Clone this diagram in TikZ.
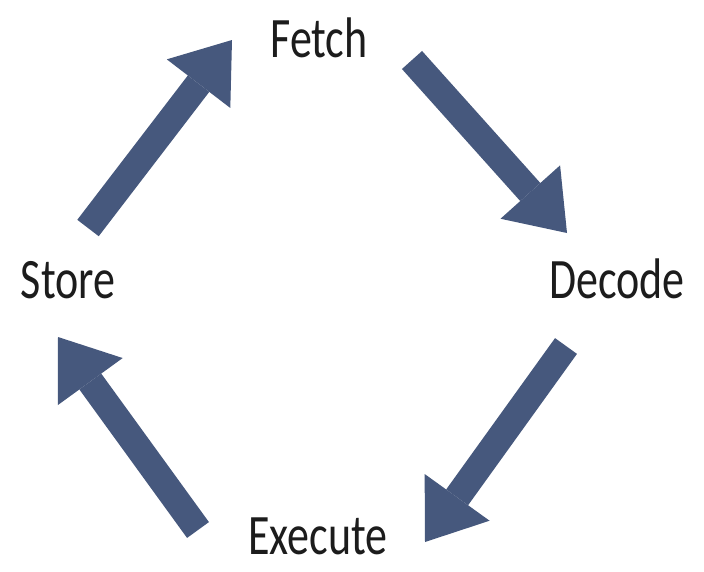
\documentclass[tikz,border=0pt]{standalone}
\usepackage{fontspec}
\setmainfont{Carlito}
\usetikzlibrary{arrows.meta}
\definecolor{arrowblue}{RGB}{70,88,125}
\definecolor{labelgrey}{RGB}{28,28,28}
\begin{document}
\begin{tikzpicture}[x=1pt,y=-1pt,
  stage/.style={inner sep=0pt, text=labelgrey, font=\fontsize{44}{48}\selectfont},
  blockarrow/.style={draw=arrowblue, line width=27pt,
    -{Triangle[length=55pt,width=80pt,line width=0pt]}}]
\useasboundingbox[fill=white] (0,0) rectangle (704,571);

% cycle stages
\node[stage] (fetch)   at (319,38)  {\scalebox{1}[1.3]{Fetch}};
\node[stage] (decode)  at (617,279) {\scalebox{1}[1.3]{Decode}};
\node[stage] (execute) at (318,536) {\scalebox{1}[1.3]{Execute}};
\node[stage] (store)   at (68,280)  {\scalebox{1}[1.3]{Store}};

% arrow ends
\coordinate (fd1) at (412,60);  \coordinate (fd2) at (567,233);
\coordinate (de1) at (566,346); \coordinate (de2) at (425,542);
\coordinate (es1) at (198,530); \coordinate (es2) at (58,337);
\coordinate (sf1) at (88,228);  \coordinate (sf2) at (232,40);

% block arrows between stages
\draw[blockarrow] (fd1) -- (fd2);
\draw[blockarrow] (de1) -- (de2);
\draw[blockarrow] (es1) -- (es2);
\draw[blockarrow] (sf1) -- (sf2);
\end{tikzpicture}
\end{document}
